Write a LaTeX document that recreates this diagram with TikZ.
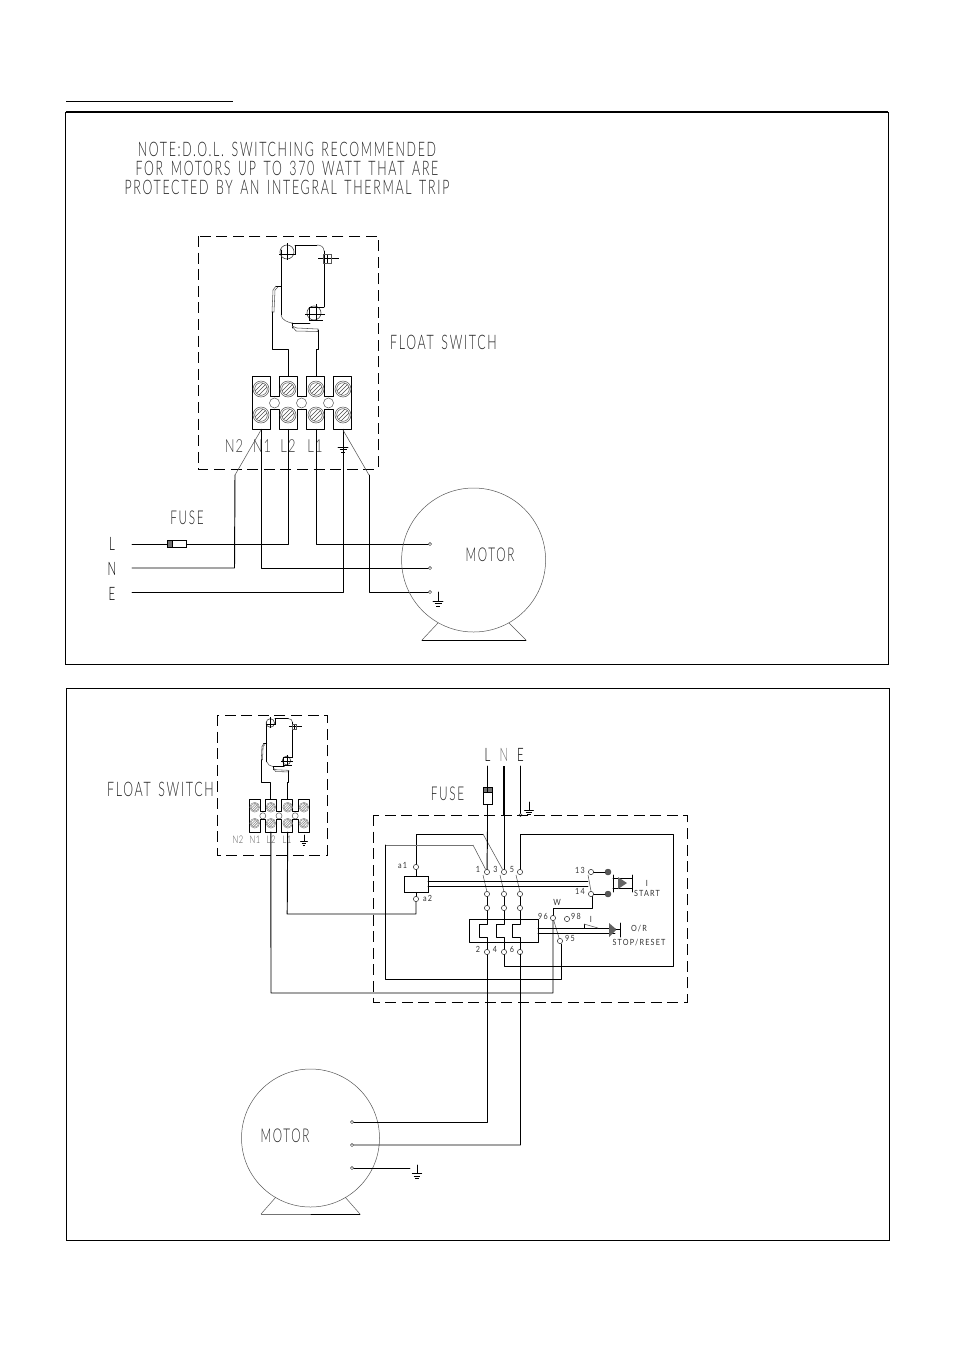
\documentclass[tikz,border=0pt]{standalone}
\usepackage{fontspec}
\setmainfont{Liberation Sans}
\newfontfamily\cad[FakeStretch=0.62,LetterSpace=8.5,WordSpace=1.5]{Lato Light}
\newfontfamily\cadn[FakeStretch=0.72,LetterSpace=6]{Lato Light}
\newfontfamily\cadw[FakeStretch=0.85,LetterSpace=14]{Lato}
\colorlet{screwc}{black!70}
\tikzset{
  wire/.style={line width=0.95pt,black,line cap=round,line join=round},
  thin gray/.style={line width=0.55pt,black!65},
  dashbox/.style={line width=0.95pt,black,dash pattern=on 11pt off 5.6pt},
  frame/.style={line width=0.8pt,black},
  motorbody/.style={line width=0.5pt,black!65},
  term/.style={circle,draw=black!80,line width=0.55pt,fill=white,minimum size=5.2pt,inner sep=0pt},
  minterm/.style={circle,draw=black!80,line width=0.5pt,fill=white,minimum size=3.2pt,inner sep=0pt},
  dotterm/.style={circle,draw=black!75,fill=black!65,line width=0.4pt,minimum size=6pt,inner sep=0pt},
  big/.style={inner sep=0pt,text=black!85,font=\cad\fontsize{20}{20}\selectfont},
  mid/.style={inner sep=0pt,text=black!85,font=\cad\fontsize{19}{20}\selectfont},
  lnsym/.style={inner sep=0pt,text=black,font=\cad\fontsize{18.5}{20}\selectfont},
  tsm/.style={inner sep=0pt,text=black!75,font=\cadn\fontsize{18}{20}\selectfont},
  tiny2/.style={inner sep=0pt,text=black!70,font=\cadn\fontsize{10.5}{12}\selectfont},
  tiny3/.style={inner sep=0pt,text=black!80,font=\cadw\fontsize{8.5}{10}\selectfont},
}
\newcommand{\earthsym}[3]{% x, top y, scale
  \draw[wire,line width=0.7pt] (#1,#2) -- ++(0,9*#3);
  \draw[wire,line width=0.7pt] (#1-5*#3,#2+9*#3) -- ++(10*#3,0);
  \draw[line width=0.6pt] (#1-3.5*#3,#2+11.5*#3) -- ++(7*#3,0);
  \draw[line width=0.6pt] (#1-1.8*#3,#2+14*#3) -- ++(3.6*#3,0);
}
\newcommand{\screw}[2]{%
  \draw[line width=0.5pt,screwc] (#1,#2) circle (8);
  \draw[line width=0.5pt,screwc] (#1,#2) circle (6.3);
  \draw[line width=0.6pt,screwc] (#1-6,#2+2) -- (#1+2,#2-6);
  \draw[line width=0.6pt,screwc] (#1-4.4,#2+4.4) -- (#1+4.4,#2-4.4);
  \draw[line width=0.6pt,screwc] (#1-2,#2+6) -- (#1+6,#2-2);
}
\newcommand{\floatparts}[1]{%
  % terminal block
  \draw[wire] (252.3,376) -- (270.3,376) -- (270.3,396) -- (279.3,396) -- (279.3,376) -- (297.3,376)
    -- (297.3,396) -- (306.3,396) -- (306.3,376) -- (324.7,376) -- (324.7,396) -- (333.3,396)
    -- (333.3,376) -- (351.7,376) -- (351.7,429.3) -- (333.3,429.3) -- (333.3,409) -- (324.7,409)
    -- (324.7,429.3) -- (306.3,429.3) -- (306.3,409) -- (297.3,409) -- (297.3,429.3) -- (279.3,429.3)
    -- (279.3,409) -- (270.3,409) -- (270.3,429.3) -- (252.3,429.3) -- cycle;
  \foreach \sx in {261,288,316,343} {\screw{\sx}{389}\screw{\sx}{415}}
  \foreach \sx in {274.5,301.5,328.5} {\draw[line width=0.5pt,black!65] (\sx,403) circle (5);}
  % switch body
  \draw[wire] (295,245) -- (317,245);
  \draw[thin gray] (317,245) .. controls (321,245) and (324,247) .. (324,251);
  \draw[wire] (324,251) -- (324,307);
  \draw[wire] (281,250) -- (281,315);
  \draw[thin gray] (281,315) .. controls (282,320) and (287,322) .. (292,323);
  \draw[wire] (292,323) -- (310,323);
  % pivot circles
  \draw[line width=0.65pt,black!70] (287,252) circle (7);
  \draw[line width=0.55pt] (279,254) -- (296,254) (287,243) -- (287,260) (295,245) -- (295,254);
  \draw[line width=0.65pt,black!70] (314,313) circle (7);
  \draw[line width=0.55pt] (309,307) -- (324,307) (309,307) -- (309,320) -- (323,320) (305,314) -- (325,314) (316,304) -- (316,321);
  % contact
  \draw[line width=0.55pt] (318,258) -- (339,258) (327,254) -- (327,263);
  \draw[thin gray] (323,254) rectangle (331,263);
  % levers
  \draw[wire] (281,286) -- (276,286);
  \draw[thin gray] (276,286) -- (273,290) -- (272,312) -- (274,312) -- (275,290) -- (278,287);
  \draw[wire] (292,323) -- (292,328);
  \draw[thin gray] (292,326) -- (296,331) -- (318,331.5) -- (318,329) -- (297,328) -- (292,326);
  % leads
  \coordinate (#1lever) at (272.5,312);
  \coordinate (#1leverb) at (318,330);
  \coordinate (#1L2top) at (288,376);
  \coordinate (#1L1top) at (316,376);
  \coordinate (#1jA) at (272.5,349);
  \coordinate (#1jB) at (288,349);
  \coordinate (#1jC) at (316,349);
  \coordinate (#1jD) at (318,349);
  \draw[wire] (#1lever) -- (#1jA) -- (#1jB) -- (#1L2top);
  \draw[wire] (#1leverb) -- (#1jD) -- (#1jC) -- (#1L1top);
  \coordinate (#1N2b) at (261,429.3);
  \coordinate (#1L2b) at (288,429.3);
  \coordinate (#1L1b) at (316,429.3);
  \coordinate (#1Eb) at (343,429.3);
}
\begin{document}
\begin{tikzpicture}[x=1pt,y=-1pt]
\useasboundingbox (0,0) rectangle (954,1350);
\fill[white] (0,0) rectangle (954,1350);
% ---- page rule and frames
\coordinate (ruleA) at (66,101); \coordinate (ruleB) at (233,101);
\draw[line width=0.7pt] (ruleA) -- (ruleB);
\draw[frame] (65.6,112) rectangle (888,664);
\draw[line width=1.3pt] (65.6,112) -- (888,112);
\draw[frame] (66.6,688) rectangle (889,1240);
% ---- note
\node[big] (note1) at (287,149) {NOTE:D.O.L. SWITCHING RECOMMENDED};
\node[big] (note2) at (287,168) {FOR MOTORS UP TO 370 WATT THAT ARE};
\node[big] (note3) at (287,187) {PROTECTED BY AN INTEGRAL THERMAL TRIP};
% ---- first float switch
\draw[dashbox] (198,236) rectangle (378,469);
\floatparts{a}
\node[big] (fs1) at (443.5,342) {FLOAT SWITCH};
\node[tsm] (an2) at (234,446) {N2};
\node[tsm] (an1) at (262,446) {N1};
\node[tsm] (al2) at (288,446) {L2};
\node[tsm] (al1) at (315,446) {L1};
\earthsym{343}{438}{1}
% ---- first mains
\node[lnsym] (aL) at (112,544) {L};
\node[lnsym] (aN) at (112,569) {N};
\node[lnsym] (aE) at (112,594) {E};
\node[mid] (afuse) at (187,518) {FUSE};
\coordinate (ast1) at (132,544); \coordinate (ast2) at (132,568); \coordinate (ast3) at (132,592);
\coordinate (ad1) at (235,475); \coordinate (ad2) at (369,475);
\node[minterm] (am1) at (430,544) {};
\node[minterm] (am2) at (430,568) {};
\node[minterm] (am3) at (430,592) {};
\draw[wire] (ast1) -- (288,544) -- (aL2b);
\draw[wire] (ast2) -- (234.5,568) -- (ad1);
\draw[wire] (ast3) -- (343,592) -- (aEb);
\draw[wire] (aN2b) -- (261,568) -- (am2);
\draw[wire] (aL1b) -- (316,544) -- (am1);
\draw[wire] (ad2) -- (369,592) -- (am3);
\draw[thin gray] (261,430) -- (ad1);
\draw[thin gray] (343,430) -- (ad2);
\draw[line width=0.6pt,fill=white] (167,540.5) rectangle (186.5,547.5);
\draw[line width=0.5pt,fill=black!55] (167,540.5) rectangle (172.5,547.5);
% ---- first motor
\draw[motorbody] (473.6,560) circle (72);
\node[mid] (amotor) at (490,555) {MOTOR};
\earthsym{438}{592}{1}
\draw[motorbody] (438,623) -- (422,640);
\draw[motorbody] (509,623) -- (526,640);
\draw[wire] (422,640) -- (526,640);
% ---- second float switch
\draw[dashbox] (217,715) rectangle (327,855);
\colorlet{screwc}{black!45}
\begin{scope}[shift={(98.1,568)},xscale=.6,yscale=.615]
\floatparts{b}
\end{scope}
\node[big] (fs2) at (160.5,789) {FLOAT SWITCH};
\node[tiny2] (bn2) at (238,840) {N2};
\node[tiny2] (bn1) at (255,840) {N1};
\node[tiny2] (bl2) at (271,840) {L2};
\node[tiny2] (bl1) at (287,840) {L1};
\earthsym{304}{835}{.7}
% ---- supply
\node[lnsym] (bL) at (487.5,755) {L};
\node[lnsym,text=black!55] (bN) at (504,755) {N};
\node[lnsym] (bE) at (520.5,755) {E};
\node[mid] (bfuse) at (447.5,794) {FUSE};
\coordinate (lsup) at (487.5,766); \coordinate (lend) at (487.5,829);
\coordinate (nsup) at (504,766); \coordinate (nmid) at (504,815); \coordinate (nend) at (504,829);
\coordinate (esup) at (520.5,766);
\node[minterm] (eterm) at (520.5,815) {};
\draw[wire] (lsup) -- (lend);
\draw[line width=1.8pt] (nsup) -- (nmid);
\draw[wire] (nmid) -- (nend);
\draw[wire] (esup) -- (eterm);
\draw[line width=0.6pt,fill=white] (483.5,787) rectangle (492,804);
\draw[line width=0.5pt,fill=black!55] (483.5,787) rectangle (492,792);
\draw[line width=0.7pt] (487.5,792) -- (487.5,787);
\earthsym{529}{802}{.9}
% ---- starter enclosure
\draw[dashbox] (373,815) rectangle (687,1002);
% contacts
\foreach \n/\xx in {A/487,B/504,C/520} {
  \node[term] (top\n) at (\xx,872) {};
  \node[term] (mid\n) at (\xx,894) {};
  \node[term] (low\n) at (\xx,908) {};
  \node[term] (bot\n) at (\xx,952) {};
  \draw[wire] (mid\n) -- (low\n);
  \draw[thin gray] (\xx-4,875) -- (\xx,892);
}
\node[tiny3] (l1) at (478,869) {1};
\node[tiny3] (l3) at (495.5,869) {3};
\node[tiny3] (l5) at (512,869.5) {5};
\node[tiny3] (l2) at (478,949) {2};
\node[tiny3] (l4) at (495,949) {4};
\node[tiny3] (l6) at (512,949) {6};
% overload
\draw[wire] (469,919) rectangle (538,942);
\foreach \n/\xx in {A/487,B/504,C/520} {
  \draw[wire] (low\n) -- (\xx,924) -- (\xx-8,924) -- (\xx-8,937) -- (\xx,937) -- (bot\n);
}
% coil
\node[draw,line width=0.95pt,minimum width=24pt,minimum height=16pt,inner sep=0,fill=white] (coil) at (416,884) {};
\node[term] (a1) at (416,867) {};
\node[term] (a2) at (416,899) {};
\draw[wire] (a1) -- (coil) (a2) -- (coil);
\node[tiny3] (la1) at (402.5,865) {a1};
\node[tiny3] (la2) at (427.5,898) {a2};
% feed wires
\coordinate (c1) at (416,834); \coordinate (c2) at (483,834);
\coordinate (g1) at (473,845); \coordinate (g2) at (385,845);
\coordinate (g3) at (385,979); \coordinate (g4) at (561,979);
\draw[wire] (a1) -- (c1) -- (c2);
\draw[thin gray] (c2) -- (topB);
\draw[line width=0.6pt,black!55] (g2) -- (g1);
\draw[thin gray] (g1) -- (topA);
\draw[wire] (lend) -- (topA);
\draw[wire] (nend) -- (topB);
\draw[wire] (g2) -- (g3) -- (g4) -- (561,944);
% link bars
\coordinate (cb1) at (428,881.5); \coordinate (cb2) at (588,881.5);
\coordinate (cb3) at (428,886.5); \coordinate (cb4) at (588,886.5);
\draw[wire] (cb1) -- (cb2) (cb3) -- (cb4);
% start pushbutton
\node[term] (t13) at (591,872) {};
\node[term] (t14) at (591,894) {};
\node[dotterm] (d13) at (608,872) {};
\node[dotterm] (d14) at (608,894) {};
\draw[wire] (t13) -- (d13) (t14) -- (d14);
\draw[thin gray] (588,875) -- (591,891);
\node[tiny3] (l13) at (580,870) {13};
\node[tiny3] (l14) at (580,891) {14};
\draw[wire] (613,875) -- (613,892) (632,875) -- (632,892) (613,878) -- (632,878) (613,888) -- (632,888);
\fill[black!60] (618,877) -- (627,883) -- (618,889) -- cycle;
\node[tiny3] (li1) at (647,883) {I};
\node[tiny3] (lstart) at (647,893) {START};
% overload reset
\node[term] (t96) at (553,918) {};
\node[term] (t98) at (567,919) {};
\node[term] (t95) at (560,941) {};
\draw[thin gray] (t96) -- (t95);
\node[tiny3] (lw) at (557,902) {W};
\node[tiny3] (l96) at (543,916) {96};
\node[tiny3] (l98) at (576,916) {98};
\node[tiny3] (l95) at (570,938) {95};
\coordinate (w1) at (592,896.5); \coordinate (w2) at (592,908); \coordinate (w3) at (553,908);
\draw[wire] (w1) -- (w2) -- (w3) -- (t96);
\coordinate (r1) at (538,928); \coordinate (r2) at (615,928);
\coordinate (r3) at (538,933); \coordinate (r4) at (615,933);
\draw[wire] (r1) -- (r2) (r3) -- (r4);
\fill[black!62] (609,923) -- (616.5,929.5) -- (609,937) -- cycle;
\draw[wire] (620,923) -- (620,937) (616,929.5) -- (620,929.5);
\draw[line width=0.6pt] (584,928) -- (584,924);
\draw[thin gray] (584,924) -- (598,928);
\node[tiny3] (li2) at (591,919) {I};
\node[tiny3] (lor) at (639,929) {O/R};
\node[tiny3] (lstop) at (639,943) {STOP/RESET};
% outgoing wires
\coordinate (o1) at (504,966); \coordinate (o2) at (673,966);
\coordinate (o3) at (673,834); \coordinate (o4) at (520,834);
\draw[wire] (botB) -- (o1) -- (o2) -- (o3) -- (o4) -- (topC);
\coordinate (p1) at (416,914); \coordinate (p2) at (287.2,914);
\draw[wire] (a2) -- (p1) -- (p2) -- (bL1b);
\coordinate (q1) at (553,993); \coordinate (q2) at (271,993);
\draw[wire] (t96) -- (q1) -- (q2) -- (bL2b);
% ---- second motor
\draw[motorbody] (310.5,1138) circle (69);
\node[mid] (bmotor) at (285,1136) {MOTOR};
\node[minterm] (bm1) at (352,1122) {};
\node[minterm] (bm2) at (352,1145) {};
\node[minterm] (bm3) at (352,1168) {};
\coordinate (u1) at (487,1122); \coordinate (u2) at (520.5,1145); \coordinate (u3) at (410,1168);
\draw[wire] (botA) -- (u1) -- (bm1);
\draw[wire] (botC) -- (520.5,954) -- (u2) -- (bm2);
\draw[wire] (bm3) -- (u3);
\earthsym{417}{1165}{.95}
\draw[motorbody] (276,1197) -- (261,1214);
\draw[motorbody] (345,1197) -- (360,1214);
\draw[line width=0.7pt,black!55] (261,1214) -- (311,1214);
\draw[wire] (311,1214) -- (360,1214);
\end{tikzpicture}
\end{document}
